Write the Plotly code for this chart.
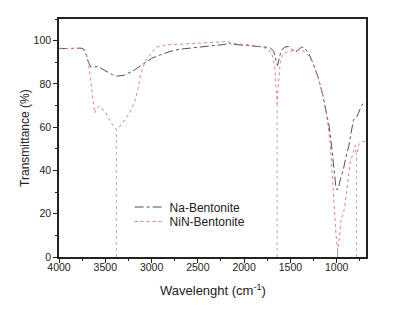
import plotly.graph_objects as go

# Na-Bentonite spectrum (wavenumber cm-1, transmittance %)
na_x = [4000, 3900, 3800, 3750, 3720, 3690, 3660, 3620, 3580, 3540, 3480, 3420, 3370, 3300, 3200, 3100,
        3000, 2900, 2800, 2700, 2600, 2500, 2400, 2300, 2200, 2170, 2140, 2000, 1900, 1800, 1720, 1680,
        1655, 1640, 1625, 1600, 1560, 1520, 1480, 1450, 1420, 1380, 1350, 1300, 1250, 1200, 1150, 1110,
        1080, 1054, 1030, 1010, 995, 980, 960, 930, 900, 870, 850, 820, 800, 780, 760, 730, 710, 690, 680]
na_y = [96.3, 96.4, 96.6, 96.5, 95.5, 91, 88, 87.8, 88, 87, 85.5, 84.2, 83.6, 84, 86, 89,
        91.8, 93.5, 95, 96, 96.5, 97, 97.3, 97.8, 98.3, 99.3, 98.3, 97.9, 97.5, 97.2, 96.8, 95,
        91, 88.5, 91, 95.5, 97, 97.3, 96, 94.6, 95.5, 97, 96.8, 94, 89, 83, 75, 67,
        60, 51, 42, 33, 31, 32, 36, 40, 46, 51, 56, 63, 64.5, 65, 67, 70, 71, 71.2, 71]

# NiN-Bentonite spectrum
nin_x = [4000, 3900, 3800, 3750, 3720, 3690, 3670, 3650, 3630, 3615, 3600, 3570, 3540, 3505, 3460, 3420,
         3380, 3330, 3270, 3220, 3180, 3150, 3120, 3090, 3055, 3000, 2950, 2850, 2700, 2500, 2300, 2200,
         2170, 2140, 2000, 1900, 1800, 1740, 1700, 1670, 1655, 1643, 1630, 1610, 1580, 1540, 1500, 1400,
         1350, 1300, 1250, 1200, 1150, 1127, 1110, 1090, 1073, 1050, 1030, 1010, 995, 985, 970, 950,
         930, 910, 890, 870, 857, 830, 810, 800, 790, 780, 760, 730, 700, 680]
nin_y = [96.5, 96.3, 96.6, 96.3, 95, 92, 86, 79, 70, 66.5, 68, 69.8, 68.5, 67.5, 64, 61,
         58.8, 61, 64.5, 68, 72, 77, 84, 88, 91.5, 94.5, 97, 98, 98.3, 98.7, 99, 99.2,
         99.6, 98.8, 98.3, 97.8, 97, 96, 94, 88, 79, 70.8, 79, 90, 94, 94.6, 95.3, 95.5,
         95, 93, 89, 83, 75, 69, 66.5, 60, 54, 40, 25, 12, 5, 4.5, 9, 18,
         19.5, 24, 31, 38, 43, 47, 51, 51.6, 48, 47.8, 52, 53, 53.5, 52.5]

# marked band positions (drop lines)
band_x = [3380, 1643, 785]
band_y = [58.8, 70.8, 48]
min_band_x = [990]
min_band_y = [4.5]

x_ticks = [4000, 3500, 3000, 2500, 2000, 1500, 1000]
y_ticks = [0, 20, 40, 60, 80, 100]

x_title = "Wavelenght (cm<sup>-1</sup>)"
y_title = "Transmittance (%)"

fig = go.Figure()

for bx, by in zip(band_x, band_y):
    fig.add_trace(go.Scatter(x=[bx, bx], y=[0, by], mode="lines",
                             line=dict(color="#aaaadd", width=1, dash="dot"),
                             showlegend=False, hoverinfo="skip"))
for bx, by in zip(min_band_x, min_band_y):
    fig.add_trace(go.Scatter(x=[bx, bx], y=[0, by], mode="lines",
                             line=dict(color="#999999", width=1, dash="dash"),
                             showlegend=False, hoverinfo="skip"))

fig.add_trace(go.Scatter(x=na_x, y=na_y, mode="lines", name="Na-Bentonite", legend="legend",
                         line=dict(color="#505050", width=1, dash="dashdot")))
fig.add_trace(go.Scatter(x=nin_x, y=nin_y, mode="lines", name="NiN-Bentonite", legend="legend2",
                         line=dict(color="#e38080", width=1, dash="dot")))

font_family = "Liberation Sans, Arial"
axis_common = dict(showline=True, linecolor="#222222", linewidth=1.6, mirror=True,
                   ticks="outside", ticklen=4, tickwidth=1.2, tickcolor="#222222",
                   showgrid=False, zeroline=False, automargin=False,
                   tickfont=dict(family=font_family, size=10.5, color="#222222"))

fig.update_xaxes(range=[4000, 683], tickvals=x_ticks, ticktext=[str(v) for v in x_ticks],
                 minor=dict(dtick=250, ticks="outside", ticklen=2, tickcolor="#222222"),
                 ticklabelstandoff=-4,
                 **axis_common)
fig.update_yaxes(range=[0, 110], tickvals=y_ticks, ticktext=[str(v) for v in y_ticks],
                 minor=dict(dtick=10, ticks="outside", ticklen=2, tickcolor="#222222"),
                 **axis_common)

fig.add_annotation(text=x_title, xref="paper", yref="paper", x=0.5, y=-0.139,
                   xanchor="center", yanchor="middle", showarrow=False,
                   font=dict(family=font_family, size=13, color="#222222"))
fig.add_annotation(text=y_title, xref="paper", yref="paper", x=-0.111, y=0.5,
                   xanchor="center", yanchor="middle", showarrow=False, textangle=-90,
                   font=dict(family=font_family, size=12, color="#222222"))

legend_style = dict(xanchor="left", yanchor="middle", bgcolor="rgba(0,0,0,0)", itemwidth=30,
                    font=dict(family=font_family, size=12, color="#222222"))

# the page body has an 8px margin, so the figure is offset by (8, 8)
fig.update_layout(
    width=391, height=299,
    margin=dict(l=51, r=33, t=11, b=50),
    paper_bgcolor="white", plot_bgcolor="white",
    showlegend=True,
    legend=dict(x=0.23, y=0.21, **legend_style),
    legend2=dict(x=0.23, y=0.149, **legend_style),
)

fig.write_html("out.html")
